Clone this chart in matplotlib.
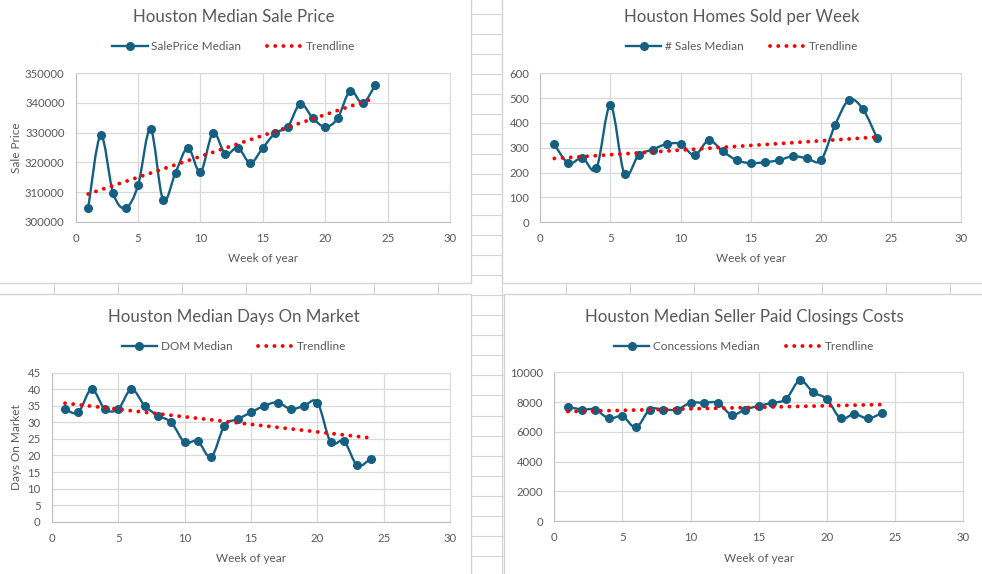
import numpy as np
import matplotlib
matplotlib.use("Agg")
import matplotlib.pyplot as plt
from matplotlib.path import Path
from matplotlib.patches import PathPatch, Rectangle
from matplotlib.lines import Line2D

plt.rcParams["font.family"] = ["Lato", "DejaVu Sans"]

W, H = 982, 574
weeks = list(range(1, 25))

sale_price = [304500, 329100, 309600, 304600, 312300, 331200, 307400, 316500,
              324900, 316700, 329900, 322800, 324900, 319800, 324900, 329900,
              332000, 339700, 334900, 331900, 334900, 344100, 339900, 346000]
homes_sold = [314, 238, 259, 217, 471, 194, 270, 293, 315, 315, 270, 330,
              286, 250, 238, 242, 250, 266, 258, 250, 391, 493, 455, 338]
days_on_market = [34, 33, 40, 34, 34, 40, 35, 32, 30, 24, 24.3, 19.5,
                  29, 31, 33, 35, 36, 34, 35, 36, 24, 24.3, 17, 19]
concessions = [7700, 7500, 7500, 6900, 7050, 6300, 7500, 7500, 7500, 7950, 7950, 7950,
               7150, 7500, 7750, 7950, 8200, 9450, 8650, 8200, 6900, 7200, 6900, 7250]

titles = ["Houston Median Sale Price", "Houston Homes Sold per Week",
          "Houston Median Days On Market", "Houston Median Seller Paid Closings Costs"]
series_names = ["SalePrice Median", "# Sales Median", "DOM Median", "Concessions Median"]
y_labels = ["Sale Price", None, "Days On Market", None]
y_ticks = [np.arange(300000, 350001, 10000), np.arange(0, 601, 100),
           np.arange(0, 46, 5), np.arange(0, 10001, 2000)]

BLUE = "#156082"
GREY_TXT = "#595959"
GRID = "#D9D9D9"
CELL = "#D4D4D4"
DOTS = (0, (0.01, 2.1))

fig = plt.figure(figsize=(W / 100, H / 100), dpi=100)

# spreadsheet background
bg = fig.add_axes([0, 0, 1, 1])
bg.set_xlim(0, W); bg.set_ylim(H, 0); bg.axis("off")
for x in range(54, W, 64):
    bg.plot([x, x], [0, H], color=CELL, lw=0.8)
for y in np.arange(13.5, H, 20.1):
    bg.plot([0, W], [y, y], color=CELL, lw=0.8)

# chart panels: (x0, y0, x1, y1) in pixels
panels = [(-2, -2, 471, 283), (502.5, -2, W + 2, 283),
          (-2, 293.5, 471, H + 2), (504.5, 293.5, W + 2, H + 2)]
for x0, y0, x1, y1 in panels:
    bg.add_patch(Rectangle((x0, y0), x1 - x0, y1 - y0, facecolor="white",
                           edgecolor=CELL, lw=1.0, zorder=3))

# plot areas in pixels
plot_boxes = [(75.7, 73.3, 450, 221.7), (540.3, 73.3, 961.3, 222.3),
              (51.7, 372.7, 450.3, 521.7), (554.3, 372.3, 963.3, 521.3)]
title_pos = [(234, 17), (742, 17), (234, 317), (744, 317)]
legend_y = [47, 47, 347, 347]
xlabel_y = [258, 258, 558, 558]


def px_rect(x0, y0, x1, y1):
    return [x0 / W, 1 - y1 / H, (x1 - x0) / W, (y1 - y0) / H]


def smooth_path(xs, ys):
    # Excel-like smoothed line: Catmull-Rom segments as cubic Bezier curves
    p = np.column_stack([xs, ys]).astype(float)
    n = len(p)
    verts = [p[0]]
    codes = [Path.MOVETO]
    for i in range(n - 1):
        pm = p[i - 1] if i > 0 else p[i]
        pn = p[i + 2] if i + 2 < n else p[i + 1]
        c1 = p[i] + (p[i + 1] - pm) / 6
        c2 = p[i + 1] - (pn - p[i]) / 6
        verts += [c1, c2, p[i + 1]]
        codes += [Path.CURVE4] * 3
    return Path(verts, codes)


all_values = [sale_price, homes_sold, days_on_market, concessions]
for k in range(4):
    vals = np.array(all_values[k], dtype=float)
    ax = fig.add_axes(px_rect(*plot_boxes[k]))
    ax.set_facecolor("none")
    yt = y_ticks[k]

    ax.add_patch(PathPatch(smooth_path(weeks, vals), facecolor="none",
                           edgecolor=BLUE, lw=1.7, zorder=3))
    ax.plot(weeks, vals, "o", color=BLUE, ms=5.5, zorder=4)

    slope, intercept = np.polyfit(weeks, vals, 1)
    tx = np.array([weeks[0], weeks[-1]])
    ax.plot(tx, slope * tx + intercept, color="red", lw=2.8,
            linestyle=DOTS, dash_capstyle="round", zorder=5)

    ax.set_xlim(0, 30)
    ax.set_ylim(yt[0], yt[-1])
    ax.set_xticks(range(0, 31, 5))
    ax.set_yticks(yt)
    ax.set_yticklabels([f"{v:g}" if v < 1e5 else f"{int(v)}" for v in yt])
    ax.grid(True, color=GRID, lw=0.9)
    ax.set_axisbelow(True)
    for side in ["top", "right"]:
        ax.spines[side].set_color(GRID)
    for side in ["left", "bottom"]:
        ax.spines[side].set_color("#BFBFBF")
    ax.tick_params(length=0, labelsize=8.2, labelcolor=GREY_TXT)
    ax.tick_params(axis="y", pad=8)
    ax.tick_params(axis="x", pad=8)

    tx0, ty0 = title_pos[k]
    fig.text(tx0 / W, 1 - ty0 / H, titles[k], ha="center", va="center",
             fontsize=12.2, color=GREY_TXT)
    cx = (plot_boxes[k][0] + plot_boxes[k][2]) / 2
    fig.text(cx / W, 1 - xlabel_y[k] / H, "Week of year", ha="center",
             va="center", fontsize=8.5, color=GREY_TXT)
    if y_labels[k]:
        cy = (plot_boxes[k][1] + plot_boxes[k][3]) / 2
        fig.text(17 / W, 1 - cy / H, y_labels[k], ha="center", va="center",
                 rotation=90, fontsize=8.5, color=GREY_TXT)

    handles = [Line2D([], [], color=BLUE, lw=1.7, marker="o", ms=5.5),
               Line2D([], [], color="red", lw=2.8, linestyle=DOTS,
                      dash_capstyle="round")]
    ax.legend(handles, [series_names[k], "Trendline"], loc="center",
              bbox_to_anchor=(tx0 / W, 1 - legend_y[k] / H),
              bbox_transform=fig.transFigure, ncol=2, frameon=False,
              fontsize=8.5, labelcolor=GREY_TXT, handlelength=3.0,
              handletextpad=0.3, columnspacing=2.2)

fig.savefig("out.png", dpi=100)
